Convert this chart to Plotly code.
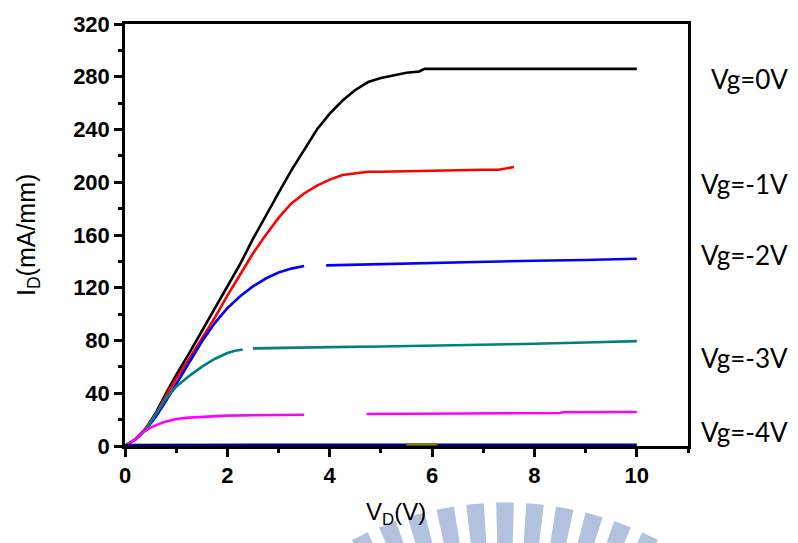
import math
import plotly.graph_objects as go

# Drain current vs drain voltage for each gate bias
vd_0 = [0, 0.2, 0.4, 0.6, 0.8, 1.0, 1.25, 1.5, 1.75, 2.0, 2.25, 2.5, 2.75, 3.0, 3.25, 3.5,
        3.75, 4.0, 4.25, 4.5, 4.75, 5.0, 5.25, 5.5, 5.75, 5.85, 6.5, 7.5, 8.5, 10.0]
id_0 = [0, 5, 13, 25, 40, 54, 70, 87, 103, 120, 138, 157, 175, 192, 209, 225,
        240, 252, 262, 270, 276, 279, 281, 283, 284, 286, 286, 286, 286, 286]

vd_1 = [0, 0.2, 0.4, 0.6, 0.8, 1.0, 1.25, 1.5, 1.75, 2.0, 2.25, 2.5, 2.75, 3.0, 3.25, 3.5,
        3.75, 4.0, 4.25, 4.5, 4.75, 5.0, 5.5, 6.0, 6.5, 7.0, 7.3, 7.45, 7.6]
id_1 = [0, 5, 13, 24, 38, 51, 66, 81, 97, 114, 130, 146, 160, 173, 184, 191.5,
        197.5, 202, 205.5, 207, 208, 208, 208.5, 209, 209, 209.5, 209.5, 210.5, 211.5]

vd_2 = [0, 0.2, 0.4, 0.6, 0.8, 1.0, 1.25, 1.5, 1.75, 2.0, 2.25, 2.5, 2.75, 3.0, 3.25, 3.5,
        None, 3.93, 4.5, 5.0, 6.0, 7.0, 8.0, 9.0, 10.0]
id_2 = [0, 5, 12, 22, 34, 47, 63, 79, 93, 104.5, 113.5, 121, 127, 131.5, 134.5, 136.5,
        None, 137, 137.5, 138, 139, 139.5, 140.5, 141, 142]

vd_3 = [0, 0.2, 0.4, 0.6, 0.8, 1.0, 1.25, 1.5, 1.75, 2.0, 2.15, 2.3,
        None, 2.5, 3.0, 4.0, 5.0, 6.0, 7.0, 8.0, 9.0, 10.0]
id_3 = [0, 5, 12, 24, 36, 45, 53, 60, 66, 70.5, 72.3, 73.2,
        None, 74, 74.5, 75, 75.5, 76, 77, 77.5, 78.5, 79.5]

vd_4 = [0, 0.2, 0.36, 0.5, 0.75, 1.0, 1.25, 1.5, 2.0, 2.5, 3.0, 3.5,
        None, 4.72, 5.5, 6.5, 6.55, 8.5, 8.55, 10.0]
id_4 = [0, 5, 10.7, 14, 18, 20.5, 21.5, 22, 23, 23.3, 23.5, 23.7,
        None, 24.3, 24.5, 24.5, 25, 25, 25.6, 25.8]

vd_5 = [0, 2.0, 4.0, 6.0, 8.0, 10.0]
id_5 = [0.8, 0.8, 0.8, 0.9, 0.9, 1.0]
vd_5b = [5.5, 6.1]
id_5b = [1.3, 1.3]

curves = [
    (vd_0, id_0, "#000000"),
    (vd_1, id_1, "#ff0000"),
    (vd_2, id_2, "#0000ff"),
    (vd_3, id_3, "#008080"),
    (vd_4, id_4, "#ff00ff"),
    (vd_5, id_5, "#000080"),
    (vd_5b, id_5b, "#808000"),
]

labels = ["Vg=0V", "Vg=-1V", "Vg=-2V", "Vg=-3V", "Vg=-4V"]
label_y = [278, 199, 145, 67, 10.5]

x_ticks = [0, 2, 4, 6, 8, 10]
y_ticks = [0, 40, 80, 120, 160, 200, 240, 280, 320]

W, H = 798, 543
L, R, T, B = 125, 110, 20, 97
pw, ph = W - L - R, H - T - B

fig = go.Figure()
for xs, ys, col in curves:
    fig.add_trace(go.Scatter(x=xs, y=ys, mode="lines", connectgaps=False,
                             line=dict(color=col, width=2.6), showlegend=False))

# Light fan-shaped emblem behind the lower part of the page
def px_to_paper(px, py):
    return (px - L) / pw, (T + ph - py) / ph

cx, cy, r_in, r_out = 505, 830, 240, 327
step, half = 0.092, 0.027
for k in range(-5, 6):
    a = k * step
    pts = []
    for ang, r in [(a - half, r_in), (a - half, r_out), (a + half, r_out), (a + half, r_in)]:
        pts.append(px_to_paper(cx + r * math.sin(ang), cy - r * math.cos(ang)))
    path = "M " + " L ".join(f"{x:.4f},{y:.4f}" for x, y in pts) + " Z"
    fig.add_shape(type="path", path=path, xref="paper", yref="paper",
                  fillcolor="#b1c1de", line=dict(width=0), layer="below")

for txt, yv in zip(labels, label_y):
    fig.add_annotation(text=txt, xref="paper", yref="y", x=(790 - L) / pw, y=yv,
                       xanchor="right", yanchor="middle", showarrow=False,
                       font=dict(family="Lato", size=26, color="#000000"))

fig.add_annotation(text="I<sub>D</sub>(mA/mm)", xref="paper", yref="paper",
                   x=(28 - L) / pw, y=0.5, textangle=-90, showarrow=False,
                   xanchor="center", yanchor="middle",
                   font=dict(family="Liberation Sans", size=25, color="#000000"))
fig.add_annotation(text="V<sub>D</sub>(V)", xref="paper", yref="paper",
                   x=(396 - L) / pw, y=(T + ph - 514) / ph, showarrow=False,
                   xanchor="center", yanchor="middle",
                   font=dict(family="Liberation Sans", size=24, color="#000000"))

axis_common = dict(showgrid=False, zeroline=False, showline=True, linecolor="#000000",
                   linewidth=2.5, mirror=True, ticks="outside", ticklen=8, tickwidth=2.5,
                   tickcolor="#000000",
                   tickfont=dict(family="Liberation Sans", size=22, color="#000000",
                                 weight="bold"))

fig.update_xaxes(range=[0, 11], tickvals=x_ticks, ticktext=[str(v) for v in x_ticks],
                 minor=dict(ticks="outside", ticklen=4, tickwidth=2.5, dtick=1,
                            tickcolor="#000000"),
                 **axis_common)
fig.update_yaxes(range=[0, 320], tickvals=y_ticks, ticktext=[str(v) for v in y_ticks],
                 minor=dict(ticks="outside", ticklen=4, tickwidth=2.5, dtick=20,
                            tickcolor="#000000"),
                 **axis_common)

fig.update_layout(width=W, height=H, margin=dict(l=L, r=R, t=T, b=B),
                  plot_bgcolor="#ffffff", paper_bgcolor="#ffffff")

fig.write_html("out.html")
